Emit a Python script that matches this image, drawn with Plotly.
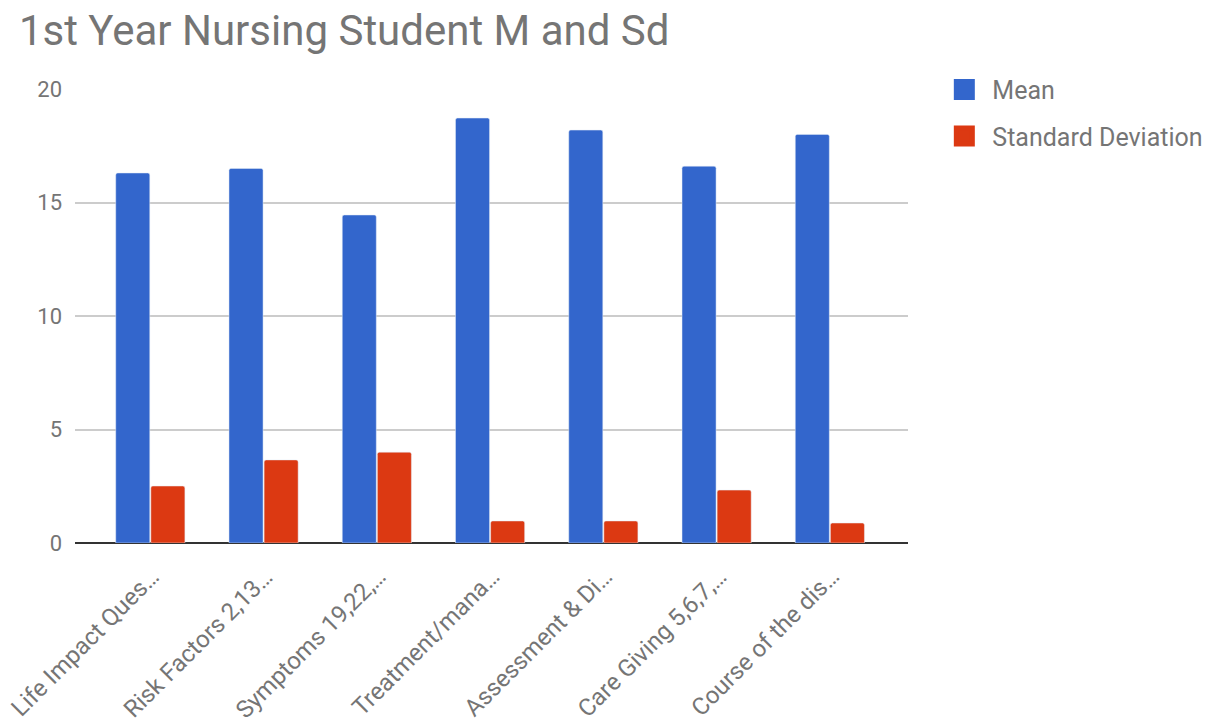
import plotly.graph_objects as go

categories = ["Life Impact Ques…", "Risk Factors 2,13…", "Symptoms 19,22,…",
              "Treatment/mana…", "Assessment & Di…", "Care Giving 5,6,7,…",
              "Course of the dis…"]
mean_vals = [16.3, 16.5, 14.45, 18.72, 18.19, 16.6, 18.0]
sd_vals = [2.51, 3.66, 4.0, 0.97, 0.97, 2.33, 0.88]
y_ticks = [0, 5, 10, 15, 20]
series_names = ["Mean", "Standard Deviation"]
series_colors = ["#3366cc", "#dc3912"]

FONT = "Roboto"
GRAY = "#757575"

fig = go.Figure()
for name, vals, col in zip(series_names, [mean_vals, sd_vals], series_colors):
    fig.add_trace(go.Bar(x=categories, y=vals, name=name, showlegend=False,
                         marker=dict(color=col, cornerradius=2)))
# legend entries with larger square swatches
for i, (name, col) in enumerate(zip(series_names, series_colors)):
    fig.add_trace(go.Scatter(x=[None], y=[None], mode="markers", name=name,
                             legendgroup=str(i),
                             marker=dict(symbol="square", size=16, color=col,
                                         line=dict(color=col, width=5))))

# category labels (rotated, offset like the original)
for c in categories:
    fig.add_annotation(x=c, xref="x", y=0, yref="paper", text=c, showarrow=False,
                       textangle=-45, xanchor="right", yanchor="top",
                       xshift=18, yshift=-17,
                       font=dict(size=24, color=GRAY, family=FONT))

fig.update_layout(
    width=1212, height=712,
    paper_bgcolor="white", plot_bgcolor="white",
    margin=dict(l=67, r=310, t=81, b=177),
    font=dict(family=FONT, color=GRAY, size=20),
    title=dict(text="1st Year Nursing Student M and Sd", x=0.009, xanchor="left",
               y=0.968, yanchor="middle", font=dict(size=42, color=GRAY, family=FONT)),
    barmode="group", bargap=0.38, bargroupgap=0.03,
    showlegend=True,
    legend=dict(x=1.034, y=1.049, xanchor="left", yanchor="top",
                font=dict(size=25, color=GRAY), tracegroupgap=11, itemwidth=46,
                bgcolor="rgba(0,0,0,0)", itemsizing="trace"),
    xaxis=dict(range=[-0.665, 6.69], showgrid=False, showticklabels=False,
               showline=False, ticks="", automargin=False),
    yaxis=dict(range=[0, 20], tickvals=y_ticks, showgrid=True, gridcolor="#cccccc",
               gridwidth=1.5, zeroline=True, zerolinecolor="#333333", zerolinewidth=2,
               tickfont=dict(size=22, color=GRAY), ticklabelstandoff=12,
               showline=False, automargin=False),
)

fig.write_html("out.html")
